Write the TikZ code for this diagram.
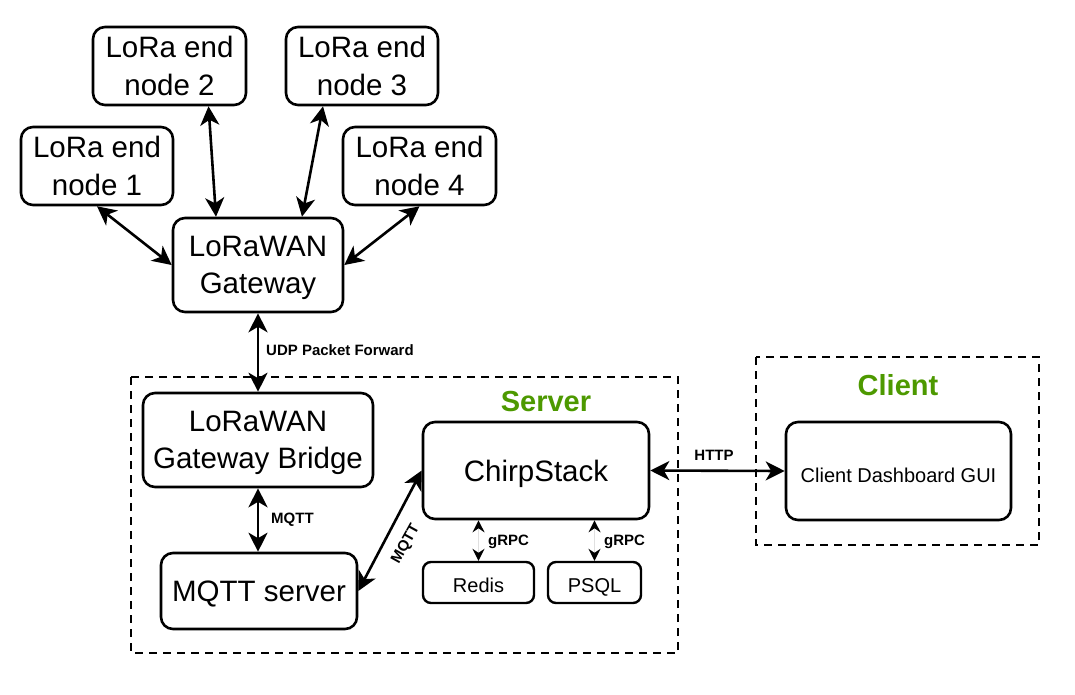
\documentclass[tikz,border=0pt]{standalone}
\usepackage{fontspec}
\setmainfont{Liberation Sans}
\usetikzlibrary{arrows.meta}
\definecolor{grn}{RGB}{77,153,0}
\tikzset{
  bigbox/.style={draw=black, line width=2.6pt, rounded corners=12pt, fill=white, inner sep=0pt, align=center,
    text depth=0pt, font=\fontsize{29.5}{37.5}\selectfont},
  smallbox/.style={draw=black, line width=2.4pt, rounded corners=8pt, fill=white, inner sep=0pt, align=center,
    text height=19pt, text depth=0pt, font=\fontsize{20}{24}\selectfont},
  conn/.style={line width=2.6pt, {Stealth[length=19pt,width=19pt,inset=5.5pt]}-{Stealth[length=19pt,width=19pt,inset=5.5pt]}},
  rpc/.style={draw=black!12, line width=1.6pt, {Stealth[black,length=12pt,width=12pt,inset=4pt]}-{Stealth[black,length=12pt,width=12pt,inset=4pt]}},
  lbl/.style={font=\fontsize{15}{18}\selectfont\bfseries, inner sep=0pt},
  grouplbl/.style={font=\fontsize{29}{34}\selectfont\bfseries, text=grn, inner sep=0pt},
  groupbox/.style={draw=black, line width=2.2pt, dash pattern=on 8pt off 6pt},
}
\begin{document}
\begin{tikzpicture}[x=1pt,y=-1pt]
\useasboundingbox (0,0) rectangle (1075,694);
% group boxes
\draw[groupbox] (131,377) rectangle (678,653);
\draw[groupbox] (756,357) rectangle (1039,545);
\node[grouplbl] (srvlbl) at (546,402) {Server};
\node[grouplbl] (clilbl) at (898,385) {Client};
% nodes
\node[bigbox, minimum width=153pt, minimum height=78pt] (n2) at (169.5,66) {LoRa end\\node 2};
\node[bigbox, minimum width=152pt, minimum height=78pt] (n3) at (362,66) {LoRa end\\node 3};
\node[bigbox, minimum width=152pt, minimum height=78pt] (n1) at (97,166) {LoRa end\\node 1};
\node[bigbox, minimum width=153pt, minimum height=78pt] (n4) at (419.5,166) {LoRa end\\node 4};
\node[bigbox, minimum width=170pt, minimum height=94pt] (gw) at (258,265) {LoRaWAN\\Gateway};
\node[bigbox, minimum width=230pt, minimum height=94pt] (br) at (258,440) {LoRaWAN\\Gateway Bridge};
\node[bigbox, minimum width=226pt, minimum height=97pt] (cs) at (536,470.5) {ChirpStack};
\node[bigbox, minimum width=196pt, minimum height=76pt] (mq) at (259,591) {MQTT server};
\node[smallbox, minimum width=111pt, minimum height=41pt] (rd) at (478.5,582.5) {Redis};
\node[smallbox, minimum width=93pt, minimum height=41pt] (pg) at (594.5,582.5) {PSQL};
\node[bigbox, minimum width=225pt, minimum height=98pt, text height=22pt, font=\fontsize{20}{24}\selectfont] (gui) at (898.5,471) {Client Dashboard GUI};
% connectors
\draw[conn] (n1.south) -- (gw.west);
\draw[conn] (n4.south) -- (gw.east);
\draw[conn] ([xshift=39pt]n2.south) -- ([xshift=-42pt]gw.north);
\draw[conn] ([xshift=-39pt]n3.south) -- ([xshift=44pt]gw.north);
\draw[conn] (gw.south) -- (br.north);
\node[lbl, anchor=west] (udp) at (266,350) {UDP Packet Forward};
\draw[conn] (br.south) -- (br.south |- mq.north);
\node[lbl, anchor=west] (mqlbl) at (271,520) {MQTT};
\draw[conn] (mq.east) -- (cs.west);
\node[lbl, rotate=61] (mqlbl2) at (406,544) {MQTT};
\draw[conn] (cs.east) -- (gui.west);
\node[lbl] (http) at (714,455) {HTTP};
\draw[rpc] (rd.north) -- (rd.north |- cs.south);
\node[lbl, anchor=west] (g1) at (488,542) {gRPC};
\draw[rpc] (pg.north) -- (pg.north |- cs.south);
\node[lbl, anchor=west] (g2) at (604,542) {gRPC};
\end{tikzpicture}
\end{document}
